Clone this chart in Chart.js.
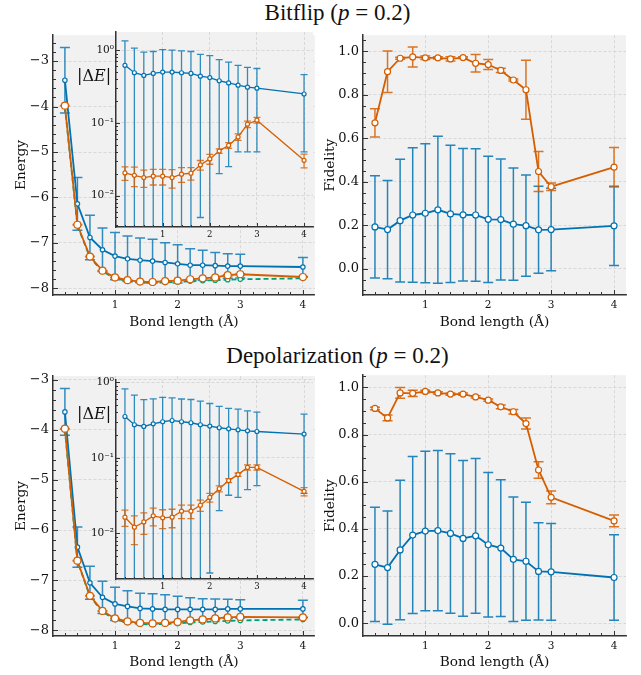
<!DOCTYPE html>
<html>
<head>
<meta charset="utf-8">
<script src="https://cdn.jsdelivr.net/npm/chart.js@4.4.1/dist/chart.umd.min.js"></script>
<style>
  body { margin: 0; background: #fff; width: 641px; height: 675px; position: relative; overflow: hidden; }
  canvas { position: absolute; }
  .suptitle { position: absolute; left: 17px; width: 641px; text-align: center; line-height: 26px;
    font-family: 'Liberation Serif', 'Times New Roman', serif; font-size: 23px; color: #111; }
  .dE { position: absolute; font-family: 'DejaVu Serif', serif; font-size: 16px; color: #111; line-height: 18px; }
</style>
</head>
<body>
<div class="suptitle" style="top:0px">Bitflip (<i>p</i> = 0.2)</div>
<canvas id="bf-energy" width="320" height="305" style="left:0;top:30px"></canvas>
<canvas id="bf-inset" width="240" height="227" style="left:80px;top:24px"></canvas>
<div class="dE" style="left:77px;top:67px">|Δ<i>E</i>|</div>
<canvas id="bf-fidelity" width="321" height="305" style="left:320px;top:30px"></canvas>

<div class="suptitle" style="top:343px">Depolarization (<i>p</i> = 0.2)</div>
<canvas id="dp-energy" width="320" height="305" style="left:0;top:370px"></canvas>
<canvas id="dp-inset" width="240" height="231" style="left:80px;top:372px"></canvas>
<div class="dE" style="left:77px;top:405px">|Δ<i>E</i>|</div>
<canvas id="dp-fidelity" width="321" height="305" style="left:320px;top:370px"></canvas>

<script>
// Bond lengths (Å)
const BOND = [0.2, 0.4, 0.6, 0.8, 1.0, 1.2, 1.4, 1.6, 1.8, 2.0, 2.2, 2.4, 2.6, 2.8, 3.0, 4.0];

// tick values
const BOND_TICKS = [1, 2, 3, 4];
const ENERGY_TICKS = [-8, -7, -6, -5, -4, -3];
const FIDELITY_TICKS = [0, 0.2, 0.4, 0.6, 0.8, 1.0];
const LOG_TICKS = [0.01, 0.1, 1];
const LOG_TICK_LABELS = ['10⁻²', '10⁻¹', '10⁰'];

// exact ground state energy
const E_EXACT = [-4.00, -6.62, -7.32, -7.63, -7.78, -7.84, -7.87, -7.88, -7.87, -7.86, -7.84, -7.83, -7.82, -7.81, -7.80, -7.78];

// Bitflip: noisy (blue) / mitigated (orange)
const BF_E_NOISY = [-3.42, -6.14, -6.88, -7.15, -7.29, -7.35, -7.38, -7.40, -7.43, -7.46, -7.49, -7.49, -7.50, -7.51, -7.51, -7.53];
const BF_E_NOISY_ERR = [0.72, 0.58, 0.49, 0.48, 0.52, 0.50, 0.49, 0.48, 0.435, 0.42, 0.36, 0.33, 0.29, 0.27, 0.26, 0.21];
const BF_E_MITIG = [-3.98, -6.60, -7.30, -7.61, -7.76, -7.82, -7.85, -7.86, -7.84, -7.83, -7.80, -7.78, -7.76, -7.71, -7.69, -7.75];
const BF_E_MITIG_ERR = [0.0043, 0.0057, 0.0047, 0.0045, 0.0045, 0.005, 0.0045, 0.004, 0.004, 0.005, 0.003, 0.0045, 0.0065, 0.01, 0.01, 0.0065];
const BF_DE_NOISY = [0.62, 0.49, 0.45, 0.48, 0.50, 0.50, 0.49, 0.48, 0.44, 0.42, 0.38, 0.355, 0.33, 0.31, 0.30, 0.25];
const BF_DE_MITIG = [0.0205, 0.019, 0.0177, 0.0185, 0.0185, 0.0177, 0.0197, 0.0203, 0.0264, 0.032, 0.041, 0.049, 0.064, 0.096, 0.109, 0.0306];
const BF_F_NOISY = [0.192, 0.180, 0.221, 0.247, 0.255, 0.271, 0.252, 0.248, 0.247, 0.227, 0.226, 0.205, 0.198, 0.179, 0.180, 0.197];
const BF_F_NOISY_ERR = [0.235, 0.226, 0.282, 0.309, 0.32, 0.338, 0.316, 0.305, 0.305, 0.29, 0.278, 0.258, 0.233, 0.20, 0.19, 0.182];
const BF_F_MITIG = [0.671, 0.906, 0.968, 0.974, 0.970, 0.970, 0.965, 0.971, 0.945, 0.939, 0.912, 0.868, 0.823, 0.447, 0.377, 0.467];
const BF_F_MITIG_ERR = [0.065, 0.095, 0.005, 0.046, 0.008, 0.005, 0.01, 0.004, 0.04, 0.023, 0.01, 0.005, 0.136, 0.092, 0.017, 0.091];

// Depolarization: noisy (blue) / mitigated (orange)
const DP_E_NOISY = [-3.645, -6.34, -7.05, -7.34, -7.47, -7.52, -7.56, -7.57, -7.58, -7.58, -7.58, -7.58, -7.58, -7.57, -7.57, -7.57];
const DP_E_NOISY_ERR = [0.465, 0.40, 0.33, 0.32, 0.33, 0.31, 0.30, 0.30, 0.29, 0.26, 0.23, 0.21, 0.205, 0.19, 0.18, 0.172];
const DP_E_MITIG = [-3.98, -6.61, -7.31, -7.61, -7.76, -7.82, -7.85, -7.86, -7.85, -7.83, -7.80, -7.78, -7.76, -7.74, -7.73, -7.74];
const DP_E_MITIG_ERR = [0.004, 0.005, 0.0045, 0.0045, 0.0045, 0.0045, 0.004, 0.004, 0.004, 0.004, 0.0035, 0.003, 0.003, 0.006, 0.006, 0.0045];
const DP_DE_NOISY = [0.352, 0.274, 0.26, 0.282, 0.30, 0.312, 0.30, 0.291, 0.274, 0.263, 0.25, 0.242, 0.235, 0.228, 0.223, 0.206];
const DP_DE_MITIG = [0.0164, 0.0121, 0.0142, 0.0171, 0.0161, 0.0164, 0.0197, 0.0197, 0.0236, 0.030, 0.039, 0.050, 0.060, 0.0748, 0.0748, 0.036];
const DP_F_NOISY = [0.25, 0.236, 0.311, 0.374, 0.391, 0.393, 0.381, 0.36, 0.371, 0.333, 0.319, 0.271, 0.263, 0.22, 0.218, 0.194];
const DP_F_NOISY_ERR = [0.242, 0.24, 0.296, 0.333, 0.338, 0.34, 0.338, 0.33, 0.328, 0.306, 0.29, 0.264, 0.25, 0.206, 0.205, 0.181];
const DP_F_MITIG = [0.911, 0.871, 0.977, 0.975, 0.983, 0.977, 0.972, 0.972, 0.96, 0.946, 0.918, 0.897, 0.847, 0.65, 0.534, 0.434];
const DP_F_MITIG_ERR = [0.005, 0.012, 0.023, 0.013, 0.005, 0.005, 0.005, 0.005, 0.005, 0.005, 0.008, 0.01, 0.023, 0.035, 0.027, 0.025];

const BLUE = '#0072B2';
const ORANGE = '#D55E00';
const GREEN = '#009E73';
const SERIF = "'DejaVu Serif', serif";
const INK = '#111';

// grey plot background
const plotBg = {
  id: 'plotBg',
  beforeDraw(chart) {
    const { ctx, chartArea: a } = chart;
    ctx.save();
    ctx.fillStyle = '#f1f1f1';
    ctx.fillRect(a.left, a.top, a.right - a.left, a.bottom - a.top);
    ctx.restore();
  }
};

// error bars, drawn under each dataset's line
const errorBars = {
  id: 'errorBars',
  beforeDatasetDraw(chart, args) {
    const ds = chart.data.datasets[args.index];
    if (!ds.errors) return;
    const { ctx, chartArea: a } = chart;
    const ys = chart.scales.y;
    const isLog = ys.type === 'logarithmic';
    const cap = ds.errCap;
    ctx.save();
    ctx.beginPath();
    ctx.rect(a.left, a.top, a.right - a.left, a.bottom - a.top);
    ctx.clip();
    ctx.strokeStyle = ds.errColor;
    ctx.lineWidth = ds.errWidth;
    args.meta.data.forEach((pt, i) => {
      const v = ds.data[i].y;
      const e = ds.errors[i];
      const top = ys.getPixelForValue(v + e);
      const lowOk = !isLog || v - e > 0;
      const bot = lowOk ? ys.getPixelForValue(v - e) : a.bottom + 10;
      ctx.beginPath();
      ctx.moveTo(pt.x, top);
      ctx.lineTo(pt.x, bot);
      ctx.moveTo(pt.x - cap, top);
      ctx.lineTo(pt.x + cap, top);
      if (lowOk) {
        ctx.moveTo(pt.x - cap, bot);
        ctx.lineTo(pt.x + cap, bot);
      }
      ctx.stroke();
    });
    ctx.restore();
  }
};

function minorValues(scale, step) {
  const out = [];
  if (step === 'log') {
    const k0 = Math.floor(Math.log10(scale.min));
    const k1 = Math.ceil(Math.log10(scale.max));
    for (let k = k0; k <= k1; k++) {
      for (let m = 2; m <= 9; m++) out.push(m * Math.pow(10, k));
    }
  } else {
    const n0 = Math.ceil(scale.min / step);
    const n1 = Math.floor(scale.max / step);
    for (let n = n0; n <= n1; n++) out.push(Math.round(n * step * 1000) / 1000);
  }
  return out.filter(v => v >= scale.min && v <= scale.max);
}

// matplotlib-like inward ticks on left and bottom spines
const inwardTicks = {
  id: 'inwardTicks',
  afterDraw(chart, args, opts) {
    const { ctx, chartArea: a, scales } = chart;
    ctx.save();
    ctx.strokeStyle = '#333';
    ctx.lineWidth = 1;
    ctx.beginPath();
    const mark = (scale, v, len) => {
      const p = Math.round(scale.getPixelForValue(v)) + 0.5;
      if (scale.isHorizontal()) {
        if (p < a.left || p > a.right) return;
        ctx.moveTo(p, a.bottom);
        ctx.lineTo(p, a.bottom - len);
      } else {
        if (p < a.top || p > a.bottom) return;
        ctx.moveTo(a.left, p);
        ctx.lineTo(a.left + len, p);
      }
    };
    [['x', opts.xMinor], ['y', opts.yMinor]].forEach(([id, step]) => {
      const s = scales[id];
      minorValues(s, step).forEach(v => mark(s, v, opts.minor));
      s.ticks.forEach(t => mark(s, t.value, opts.major));
    });
    ctx.stroke();
    ctx.restore();
  }
};

function series(xs, ys, errs, st) {
  return {
    data: xs.map((x, i) => ({ x, y: ys[i] })),
    errors: errs,
    errCap: st.cap || 5,
    errWidth: st.errWidth || 1.5,
    errColor: st.errColor || st.color,
    borderColor: st.color,
    backgroundColor: st.color,
    borderWidth: st.lw,
    borderDash: st.dash || [],
    pointRadius: st.r,
    pointBackgroundColor: '#fff',
    pointBorderColor: st.color,
    pointBorderWidth: 1.2,
    tension: 0,
    order: st.order
  };
}

const GRID = { color: '#d2d2d2', lineWidth: 0.8, drawTicks: false };
const BORDER = { display: true, color: '#333', width: 1.5, dash: [3, 2] };

function makeChart(id, cfg) {
  const fixed = (w, h) => s => {
    if (w) s.width = w;
    if (h) s.height = h;
    s.paddingLeft = s.paddingRight = s.paddingTop = s.paddingBottom = 0;
  };
  return new Chart(document.getElementById(id), {
    type: 'line',
    data: { datasets: cfg.datasets },
    options: {
      responsive: false,
      animation: false,
      devicePixelRatio: 1,
      layout: { padding: cfg.padding },
      plugins: {
        legend: { display: false },
        tooltip: { enabled: false },
        inwardTicks: cfg.ticks
      },
      scales: {
        x: {
          type: 'linear',
          min: 0.01,
          max: 4.19,
          afterBuildTicks: s => { s.ticks = BOND_TICKS.map(v => ({ value: v })); },
          afterFit: fixed(0, cfg.xHeight),
          grid: GRID,
          border: BORDER,
          ticks: { font: { family: SERIF, size: cfg.xFont }, color: INK, padding: cfg.xPad, maxRotation: 0, autoSkip: false },
          title: cfg.xTitle
            ? { display: true, text: 'Bond length (Å)', color: INK, font: { family: SERIF, size: 13.7 }, padding: { top: 0, bottom: 4 } }
            : { display: false }
        },
        y: {
          type: cfg.yType || 'linear',
          min: cfg.yMin,
          max: cfg.yMax,
          afterBuildTicks: s => { s.ticks = cfg.yTicks.map(v => ({ value: v })); },
          afterFit: fixed(cfg.yWidth, 0),
          grid: GRID,
          border: BORDER,
          ticks: { font: { family: SERIF, size: cfg.yFont }, color: INK, padding: cfg.yPad, autoSkip: false, callback: cfg.yLabel },
          title: cfg.yTitle
            ? { display: true, text: cfg.yTitle, color: INK, font: { family: SERIF, size: 13.7 }, padding: { top: cfg.yTitlePad, bottom: 0 } }
            : { display: false }
        }
      }
    },
    plugins: [plotBg, errorBars, inwardTicks]
  });
}

const minus = v => (v < 0 ? '\u2212' + Math.abs(v) : String(v));
const oneDec = v => v.toFixed(1);
const logLabel = (v, i) => LOG_TICK_LABELS[i];

function energyChart(id, top, yMin, yMax, noisy, noisyErr, mitig, mitigErr) {
  makeChart(id, {
    padding: { top, right: 5, left: 0, bottom: 0 },
    xHeight: 305 - top - (top === 2 ? 263 : 260),
    xFont: 10.5, xPad: 4, xTitle: true,
    yMin, yMax, yTicks: ENERGY_TICKS, yWidth: 53, yFont: 13, yPad: 4, yLabel: minus,
    yTitle: 'Energy', yTitlePad: 13,
    ticks: { xMinor: 0.2, yMinor: 0.2, major: 5, minor: 3 },
    datasets: [
      series(BOND, noisy, noisyErr, { color: BLUE, lw: 1.8, r: 2.2, order: 3, errColor: 'rgba(0,114,178,0.8)' }),
      series(BOND, E_EXACT, null, { color: GREEN, lw: 1.8, r: 2.2, dash: [5, 3], order: 2 }),
      series(BOND, mitig, mitigErr, { color: ORANGE, lw: 1.8, r: 3.5, order: 1, errColor: 'rgba(213,94,0,0.8)' })
    ]
  });
}

function insetChart(id, height, yMin, yMax, noisy, noisyErr, mitig, mitigErr) {
  makeChart(id, {
    padding: { top: 8, right: 7, left: 0, bottom: 0 },
    xHeight: 24,
    xFont: 8.5, xPad: 3, xTitle: false,
    yType: 'logarithmic', yMin, yMax, yTicks: LOG_TICKS, yWidth: 36, yFont: 10.5, yPad: 2, yLabel: logLabel,
    ticks: { xMinor: 0.2, yMinor: 'log', major: 4, minor: 2 },
    datasets: [
      series(BOND, noisy, noisyErr, { color: BLUE, lw: 1.3, r: 2, order: 2, cap: 3.5, errWidth: 1.3, errColor: 'rgba(0,114,178,0.8)' }),
      series(BOND, mitig, mitigErr, { color: ORANGE, lw: 1.3, r: 2, order: 1, cap: 3.5, errWidth: 1.3, errColor: 'rgba(213,94,0,0.8)' })
    ]
  });
}

function fidelityChart(id, top, bottom, yMin, yMax, noisy, noisyErr, mitig, mitigErr) {
  makeChart(id, {
    padding: { top, right: 15, left: 0, bottom: 0 },
    xHeight: 305 - bottom,
    xFont: 10.5, xPad: 4, xTitle: true,
    yMin, yMax, yTicks: FIDELITY_TICKS, yWidth: 43, yFont: 13, yPad: 4, yLabel: oneDec,
    yTitle: 'Fidelity', yTitlePad: 2,
    ticks: { xMinor: 0.2, yMinor: 0.05, major: 5, minor: 3 },
    datasets: [
      series(BOND, noisy, noisyErr, { color: BLUE, lw: 1.8, r: 3, order: 2, errColor: 'rgba(0,114,178,0.85)' }),
      series(BOND, mitig, mitigErr, { color: ORANGE, lw: 1.8, r: 3, order: 1, errColor: 'rgba(213,94,0,0.85)' })
    ]
  });
}

energyChart('bf-energy', 2, -8.146, -2.43, BF_E_NOISY, BF_E_NOISY_ERR, BF_E_MITIG, BF_E_MITIG_ERR);
insetChart('bf-inset', 227, 0.0037, 1.78, BF_DE_NOISY, BF_E_NOISY_ERR, BF_DE_MITIG, BF_E_MITIG_ERR);
fidelityChart('bf-fidelity', 2, 265, -0.121, 1.074, BF_F_NOISY, BF_F_NOISY_ERR, BF_F_MITIG, BF_F_MITIG_ERR);

energyChart('dp-energy', 6, -8.11, -2.93, DP_E_NOISY, DP_E_NOISY_ERR, DP_E_MITIG, DP_E_MITIG_ERR);
insetChart('dp-inset', 231, 0.0025, 1.07, DP_DE_NOISY, DP_E_NOISY_ERR, DP_DE_MITIG, DP_E_MITIG_ERR);
fidelityChart('dp-fidelity', 5, 266, -0.054, 1.052, DP_F_NOISY, DP_F_NOISY_ERR, DP_F_MITIG, DP_F_MITIG_ERR);
</script>
</body>
</html>
